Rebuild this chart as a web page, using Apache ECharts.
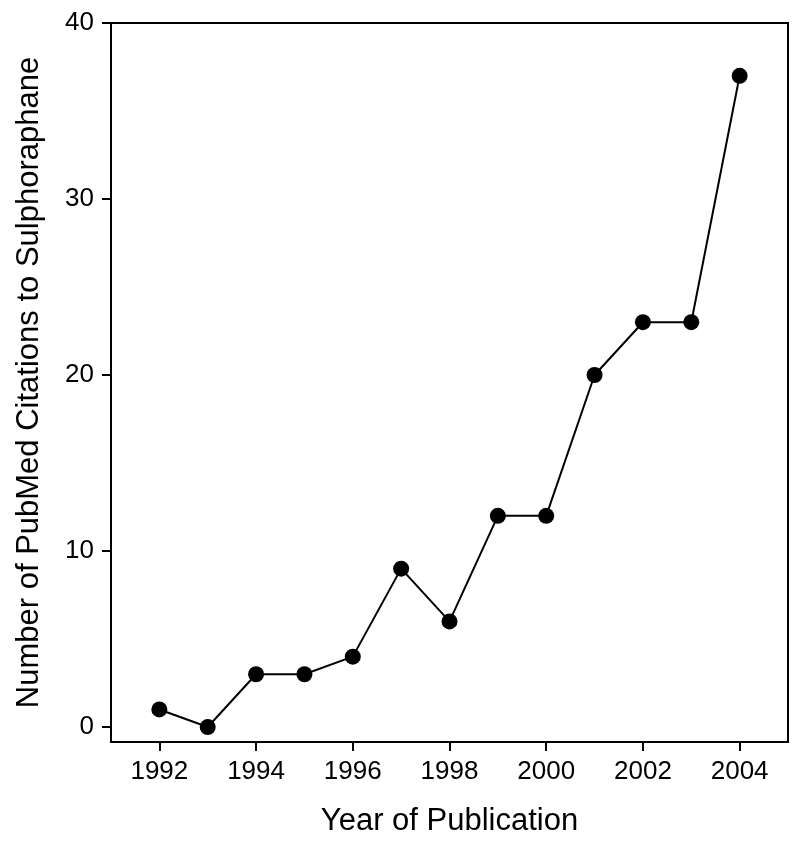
<!DOCTYPE html>
<html>
<head>
<meta charset="utf-8">
<script src="https://cdn.jsdelivr.net/npm/echarts@6/dist/echarts.min.js"></script>
<style>html,body{margin:0;padding:0;background:#fff}#c{width:800px;height:844px}</style>
</head>
<body>
<div id="c"></div>
<script>
var years = [1992, 1993, 1994, 1995, 1996, 1997, 1998, 1999, 2000, 2001, 2002, 2003, 2004];
var citations = [1, 0, 3, 3, 4, 9, 6, 12, 12, 20, 23, 23, 37];
var xTicks = [1992, 1994, 1996, 1998, 2000, 2002, 2004];
var yTicks = [0, 10, 20, 30, 40];

var font = '"Liberation Sans", Arial, Helvetica, sans-serif';
var chart = echarts.init(document.getElementById('c'));
var pts = years.map(function (y, i) { return [y, citations[i]]; });
chart.setOption({
  animation: false,
  backgroundColor: '#fff',
  grid: { left: 111, right: 12, top: 23, bottom: 102, show: true, borderColor: '#000', borderWidth: 2, backgroundColor: 'transparent' },
  xAxis: {
    type: 'value', min: 1991, max: 2005,
    name: 'Year of Publication', nameLocation: 'middle', nameGap: 64,
    nameTextStyle: { fontFamily: font, fontSize: 31, color: '#000' },
    axisLine: { show: true, onZero: false, lineStyle: { color: '#000', width: 2 } },
    axisTick: { show: true, inside: false, length: 9, lineStyle: { color: '#000', width: 2 }, customValues: xTicks },
    axisLabel: { fontFamily: font, fontSize: 26, color: '#000', margin: 17, customValues: xTicks, formatter: function (v) { return String(v); } },
    splitLine: { show: false }
  },
  yAxis: {
    type: 'value', min: -0.85, max: 40,
    name: 'Number of PubMed Citations to Sulphoraphane', nameLocation: 'middle', nameGap: 66,
    nameTextStyle: { fontFamily: font, fontSize: 31, color: '#000' },
    axisLine: { show: true, onZero: false, lineStyle: { color: '#000', width: 2 } },
    axisTick: { show: true, inside: false, length: 9, lineStyle: { color: '#000', width: 2 }, customValues: yTicks },
    axisLabel: { fontFamily: font, fontSize: 26, color: '#000', margin: 17, customValues: yTicks },
    splitLine: { show: false }
  },
  series: [{
    type: 'line', data: pts,
    symbol: 'circle', symbolSize: 16,
    lineStyle: { color: '#000', width: 2 },
    itemStyle: { color: '#000' }
  }]
});
</script>
</body>
</html>
